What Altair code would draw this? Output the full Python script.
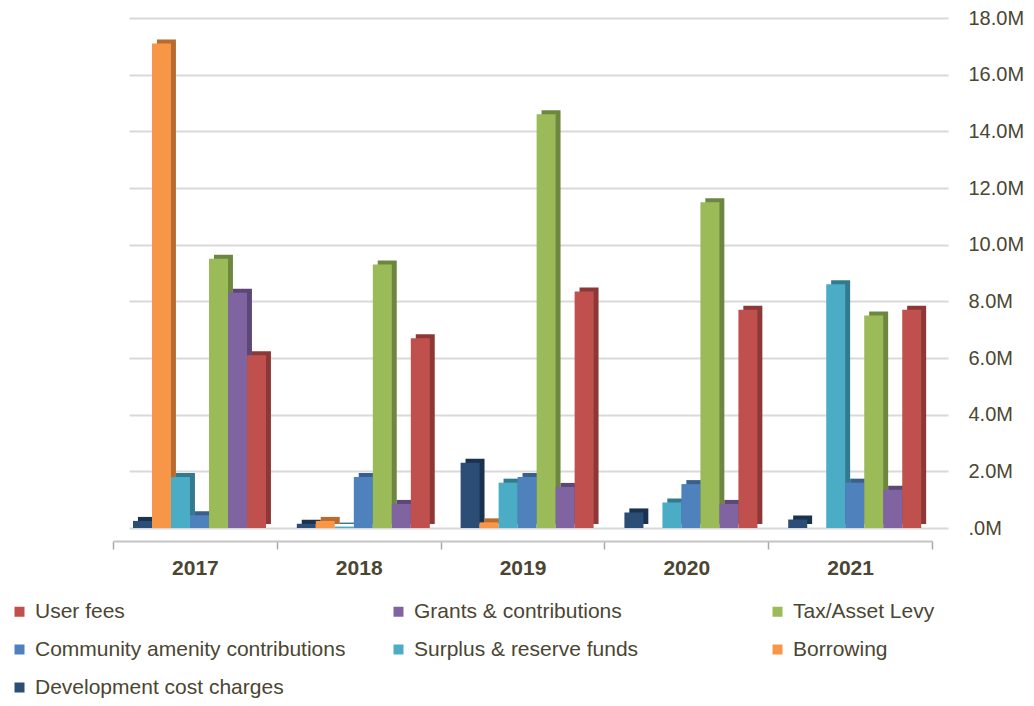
import altair as alt
import pandas as pd

years = ["2017", "2018", "2019", "2020", "2021"]

# values in millions
development_cost_charges = [0.25, 0.15, 2.3, 0.55, 0.3]
borrowing = [17.1, 0.25, 0.2, 0.0, 0.0]
surplus_reserve_funds = [1.8, 0.05, 1.6, 0.9, 8.6]
community_amenity_contributions = [0.45, 1.8, 1.8, 1.55, 1.6]
tax_asset_levy = [9.5, 9.3, 14.6, 11.5, 7.5]
grants_contributions = [8.3, 0.85, 1.45, 0.85, 1.35]
user_fees = [6.1, 6.7, 8.35, 7.7, 7.7]

bar_order = [
    "Development cost charges",
    "Borrowing",
    "Surplus & reserve funds",
    "Community amenity contributions",
    "Tax/Asset Levy",
    "Grants & contributions",
    "User fees",
]
series_values = [
    development_cost_charges,
    borrowing,
    surplus_reserve_funds,
    community_amenity_contributions,
    tax_asset_levy,
    grants_contributions,
    user_fees,
]
legend_order = list(reversed(bar_order))
colors = {
    "User fees": "#C0504D",
    "Grants & contributions": "#8064A2",
    "Tax/Asset Levy": "#9BBB59",
    "Community amenity contributions": "#4F81BD",
    "Surplus & reserve funds": "#4BACC6",
    "Borrowing": "#F79646",
    "Development cost charges": "#2C4D75",
}
side_colors = {
    "User fees": "#8C3836",
    "Grants & contributions": "#5C4776",
    "Tax/Asset Levy": "#6E8740",
    "Community amenity contributions": "#3A5F8B",
    "Surplus & reserve funds": "#337A8E",
    "Borrowing": "#B86B2E",
    "Development cost charges": "#1B324F",
}
y_ticks = [0, 2, 4, 6, 8, 10, 12, 14, 16, 18]

rows = []
for name, vals in zip(bar_order, series_values):
    for yr, v in zip(years, vals):
        rows.append({"year": yr, "source": name, "value": v})
df = pd.DataFrame(rows)

text_color = "#4a4632"
font = "Liberation Sans"

x_enc = alt.X(
    "year:N",
    sort=years,
    scale=alt.Scale(range=[0, 819], paddingInner=0, paddingOuter=0),
    axis=alt.Axis(
        title=None,
        labelAngle=0,
        labelFont=font,
        labelFontSize=21,
        labelFontWeight="bold",
        labelColor=text_color,
        labelPadding=8,
        domainColor="#c4c4c4",
        domainWidth=2,
        tickColor="#a8a8a8",
        tickWidth=1.5,
        tickSize=8,
        tickBand="extent",
        offset=13,
        grid=False,
    ),
)
y_enc = alt.Y(
    "value:Q",
    scale=alt.Scale(domain=[0, 18], nice=False),
    axis=alt.Axis(
        title=None,
        orient="right",
        values=y_ticks,
        labelExpr="datum.value == 0 ? '.0M' : format(datum.value, '.1f') + 'M'",
        labelFont=font,
        labelFontSize=20,
        labelColor=text_color,
        labelPadding=20,
        labelAlign="left",
        ticks=False,
        domain=False,
        grid=True,
        gridColor="#d9d9d9",
        gridWidth=2,
    ),
)

side = (
    alt.Chart(df)
    .transform_filter("datum.value > 0")
    .mark_bar(yOffset=-4)
    .encode(
        x=x_enc,
        xOffset=alt.XOffset(
            "source:N",
            sort=bar_order,
            scale=alt.Scale(paddingInner=0, paddingOuter=0.81, align=0.81),
        ),
        y=y_enc,
        color=alt.Color(
            "source:N",
            scale=alt.Scale(domain=legend_order, range=[side_colors[s] for s in legend_order]),
            legend=None,
        ),
    )
)

front = (
    alt.Chart(df)
    .mark_bar()
    .encode(
        x=x_enc,
        xOffset=alt.XOffset(
            "source:N",
            sort=bar_order,
            scale=alt.Scale(paddingInner=0, paddingOuter=0.81, align=0.65),
        ),
        y=y_enc,
        color=alt.Color(
            "source:N",
            scale=alt.Scale(domain=legend_order, range=[colors[s] for s in legend_order]),
            legend=alt.Legend(
                title=None,
                orient="none",
                legendX=-104,
                legendY=583,
                direction="horizontal",
                columns=3,
                gridAlign="all",
                columnPadding=42,
                rowPadding=16,
                symbolType="square",
                symbolSize=100,
                symbolStrokeWidth=0,
                labelFont=font,
                labelFontSize=21,
                labelColor=text_color,
                labelOffset=5,
                labelLimit=400,
                padding=0,
            ),
        ),
    )
)

chart = (
    alt.layer(side, front)
    .resolve_scale(color="independent", xOffset="independent")
    .properties(
        width=835,
        height=510,
        padding={"left": 105, "top": 10, "right": 78, "bottom": 170},
        autosize=alt.AutoSizeParams(type="none"),
    )
    .configure_view(stroke=None)
)

chart.save("out.html", embed_options={"renderer": "svg", "actions": False})
